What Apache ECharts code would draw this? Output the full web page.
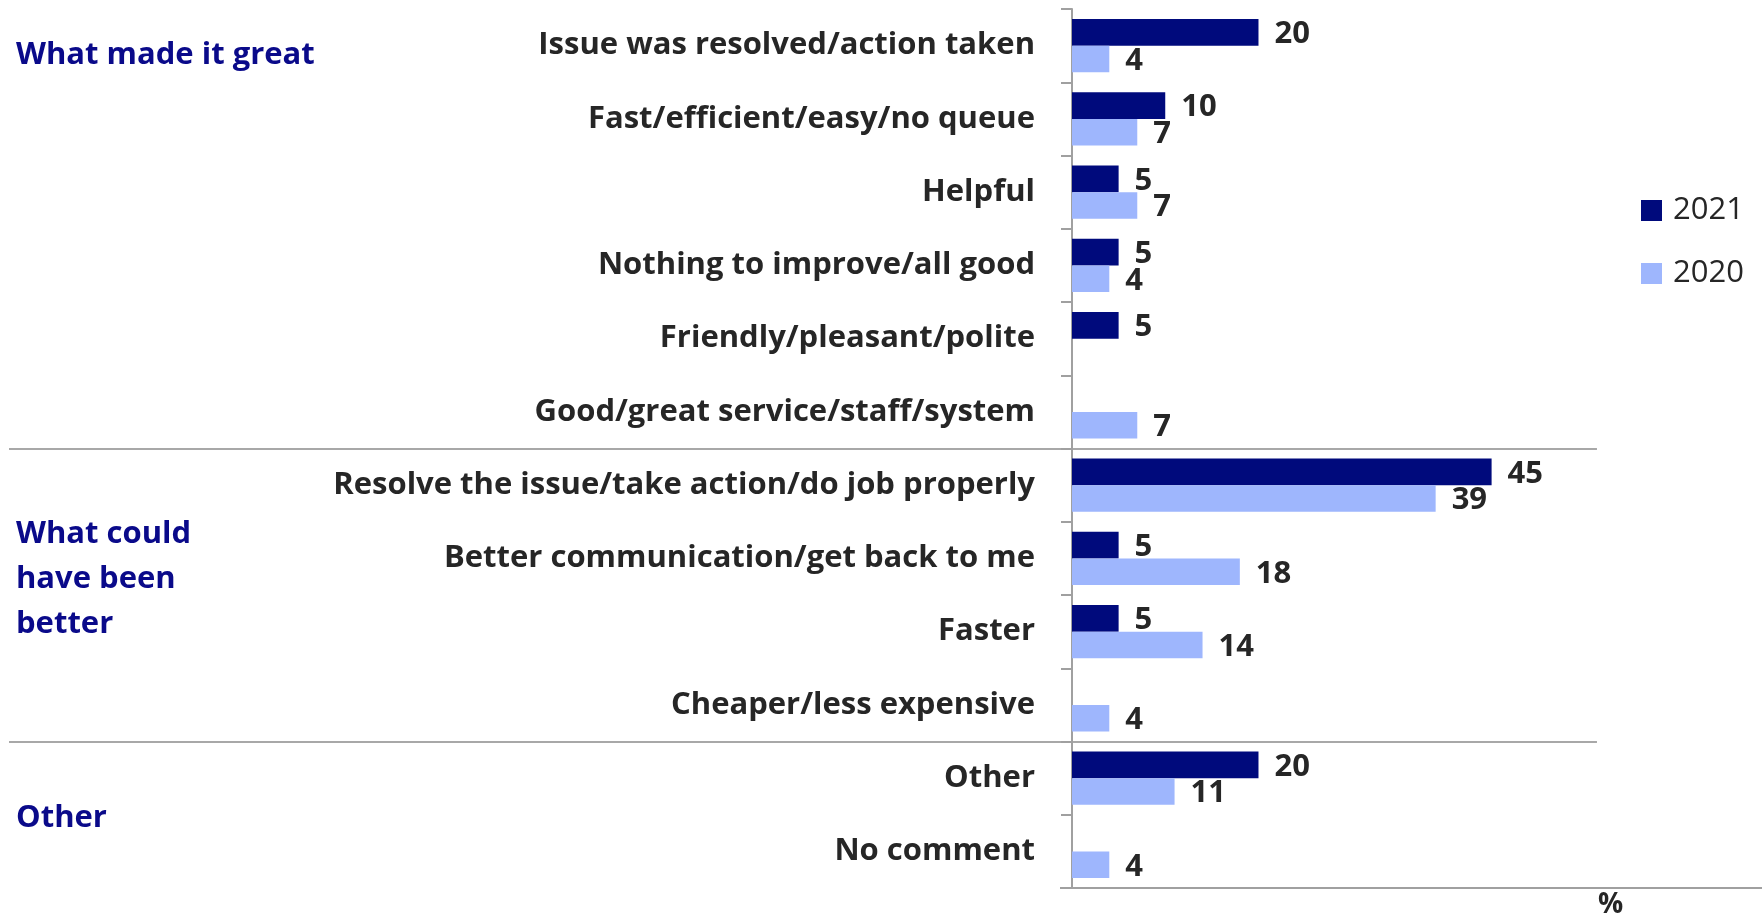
<!DOCTYPE html>
<html><head><meta charset="utf-8">
<script src="https://cdn.jsdelivr.net/npm/echarts@6/dist/echarts.min.js"></script>
<style>html,body{margin:0;padding:0;background:#fff}#c{width:1762px;height:922px}</style>
</head><body><div id="c"></div>
<script>
const categories = ["Issue was resolved/action taken","Fast/efficient/easy/no queue","Helpful","Nothing to improve/all good","Friendly/pleasant/polite","Good/great service/staff/system","Resolve the issue/take action/do job properly","Better communication/get back to me","Faster","Cheaper/less expensive","Other","No comment"];
const values2021 = [20,10,5,5,5,null,45,5,5,null,20,null];
const values2020 = [4,7,7,4,null,7,39,18,14,4,11,4];
const groupTitles = [["What made it great"],["What could","have been","better"],["Other"]];
const groupStarts = [0,6,10];
const groupEnds = [5,9,11];
const seriesNames = ["2021","2020"];

const FONT = "'Open Sans'";
const chart = echarts.init(document.getElementById('c'));
const labelStyle = {show:true, position:'right', distance:16, offset:[0,2], fontFamily:FONT, fontWeight:'bold', fontSize:31, color:'#262626'};
chart.setOption({
  animation:false,
  grid:{left:1072, right:0, top:9, bottom:34, containLabel:false},
  legend:{orient:'vertical', left:1636, top:190, itemWidth:21, itemHeight:21, itemGap:32, icon:'rect',
    textStyle:{fontFamily:FONT, fontSize:31, color:'#262626', padding:[0,0,0,6]}, data:seriesNames},
  xAxis:{type:'value', min:0, max:74, splitLine:{show:false}, axisLabel:{show:false}, axisTick:{show:false},
    axisLine:{show:true, lineStyle:{color:'#a0a0a0', width:2}}},
  yAxis:{type:'category', inverse:true, data:categories,
    axisLine:{show:true, lineStyle:{color:'#a0a0a0', width:2}},
    axisTick:{show:true, length:11, lineStyle:{color:'#a0a0a0', width:2}},
    axisLabel:{margin:37, padding:[2,0,0,0], fontFamily:FONT, fontWeight:'bold', fontSize:31, color:'#262626'}},
  series:[
    {name:seriesNames[0], type:'bar', data:values2021, barGap:'0%', barCategoryGap:'27%', itemStyle:{color:'#000a7c'}, label:labelStyle},
    {name:seriesNames[1], type:'bar', data:values2020, barGap:'0%', barCategoryGap:'27%', itemStyle:{color:'#9eb6fd'}, label:labelStyle}
  ]
});

function bandEdge(i){ // y pixel of the boundary after category i
  const a = chart.convertToPixel({yAxisIndex:0}, categories[i]);
  const b = chart.convertToPixel({yAxisIndex:0}, categories[i+1]);
  return (a+b)/2;
}
const graphics = [];
const bandH = chart.convertToPixel({yAxisIndex:0}, categories[1]) - chart.convertToPixel({yAxisIndex:0}, categories[0]);
const sepRight = chart.convertToPixel({xAxisIndex:0}, 56.3);
[5,9].forEach(i=>{
  const y = Math.round(bandEdge(i));
  graphics.push({type:'line', shape:{x1:9, y1:y, x2:sepRight, y2:y}, style:{stroke:'#a8a8a8', lineWidth:2}});
});
const x0 = chart.convertToPixel({xAxisIndex:0}, 0);
const yBottom = chart.convertToPixel({yAxisIndex:0}, categories[11]) + bandH/2;
graphics.push({type:'line', shape:{x1:x0-12, y1:yBottom, x2:x0, y2:yBottom}, style:{stroke:'#a0a0a0', lineWidth:2}});
const offsets = [10, -16, 3];
groupTitles.forEach((lines,g)=>{
  let yc;
  if (g===0) yc = chart.convertToPixel({yAxisIndex:0}, categories[0]);
  else yc = (chart.convertToPixel({yAxisIndex:0}, categories[groupStarts[g]]) + chart.convertToPixel({yAxisIndex:0}, categories[groupEnds[g]]))/2;
  yc += offsets[g];
  const lh = 45;
  graphics.push({type:'text', left:16, top: yc - lines.length*lh/2,
    style:{text:lines.join('\n'), lineHeight:lh, font:'bold 31px '+FONT, fill:'#0a0a8a'}});
});
graphics.push({type:'text', left:1598, top:891, style:{text:'%', font:'bold 28px '+FONT, fill:'#262626'}});
chart.setOption({graphic:graphics});
</script></body></html>
